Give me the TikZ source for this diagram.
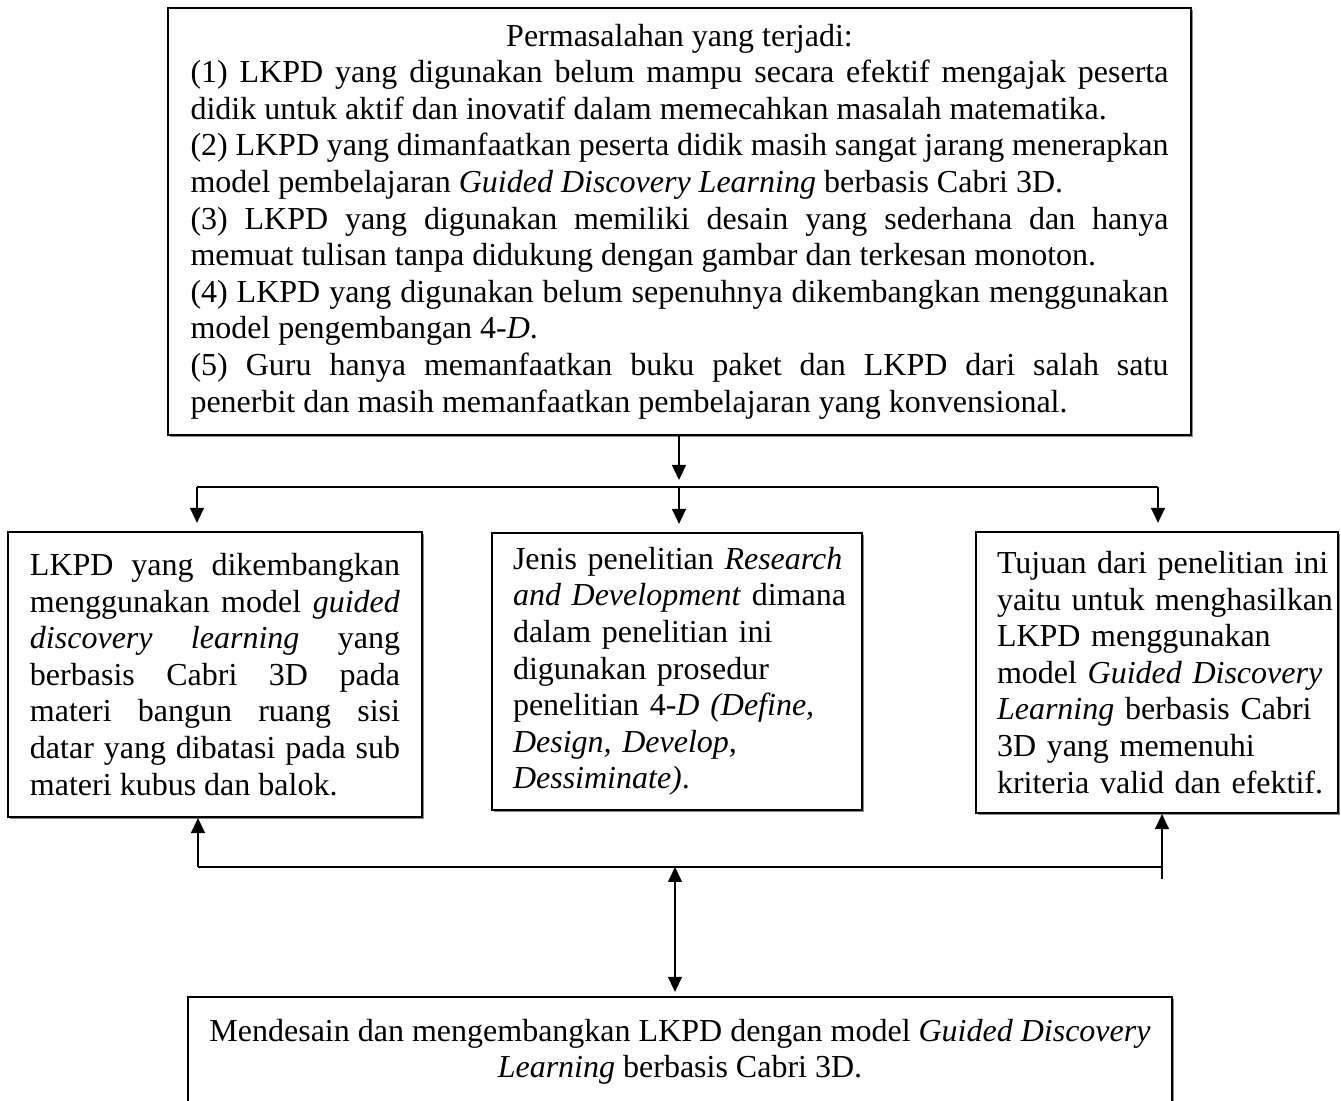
\documentclass[tikz,border=0pt]{standalone}
\usepackage{fontspec}
\setmainfont{Liberation Serif}
\usetikzlibrary{arrows.meta,shadows}
\hyphenpenalty=10000
\exhyphenpenalty=10000
\newcommand{\jl}[1]{\makebox[\linewidth][s]{#1}}
\begin{document}
\begin{tikzpicture}[x=0.5pt,y=-0.5pt,
  box/.style={draw=black,line width=1.1pt,fill=white,rectangle,inner sep=0pt,
    font=\fontsize{16}{18.3}\selectfont,
    drop shadow={shadow xshift=0.9pt,shadow yshift=-0.9pt,fill=black!45,opacity=1}},
  conn/.style={line width=0.65pt},
  arr/.style={conn,-{Triangle[length=7.5pt,width=7pt]}},
  arrb/.style={conn,{Triangle[length=7.5pt,width=7pt]}-{Triangle[length=7.5pt,width=7pt]}}]
\useasboundingbox (0,0) rectangle (1341,1101);

\node[box,minimum width=511.5pt,minimum height=213.5pt,text width=489pt,align=justify] (top) at (679.5,221.5) {%
\centerline{Permasalahan yang terjadi:}\\
\jl{(1) LKPD yang digunakan belum mampu secara efektif mengajak peserta}\\
\mbox{didik untuk aktif dan inovatif dalam memecahkan masalah matematika.}\\
\jl{(2) LKPD yang dimanfaatkan peserta didik masih sangat jarang menerapkan}\\
\mbox{model pembelajaran \textit{Guided Discovery Learning} berbasis Cabri 3D.}\\
\jl{(3) LKPD yang digunakan memiliki desain yang sederhana dan hanya}\\
\mbox{memuat tulisan tanpa didukung dengan gambar dan terkesan monoton.}\\
\jl{(4) LKPD yang digunakan belum sepenuhnya dikembangkan menggunakan}\\
\mbox{model pengembangan 4-\textit{D}.}\\
\jl{(5) Guru hanya memanfaatkan buku paket dan LKPD dari salah satu}\\
\mbox{penerbit dan masih memanfaatkan pembelajaran yang konvensional.}};

\node[box,minimum width=207pt,minimum height=142.5pt,text width=185pt,align=justify] (left) at (215,674.5) {%
\jl{LKPD yang dikembangkan}\\
\jl{menggunakan model \textit{guided}}\\
\jl{\textit{discovery} \textit{learning} yang}\\
\jl{berbasis Cabri 3D pada}\\
\jl{materi bangun ruang sisi}\\
\jl{datar yang dibatasi pada sub}\\
\mbox{materi kubus dan balok.}};

\node[box,minimum width=185pt,minimum height=138.5pt,text width=164pt,align=left] (mid) at (677,671.5) {%
\mbox{Jenis penelitian \textit{Research}}\\
\mbox{\textit{and Development} dimana}\\
\mbox{dalam penelitian ini}\\
\mbox{digunakan prosedur}\\
\mbox{penelitian 4-\textit{D (Define,}}\\
\mbox{\textit{Design, Develop,}}\\
\mbox{\textit{Dessiminate)}.}};

\node[box,minimum width=181pt,minimum height=140.5pt,text width=160pt,align=left] (right) at (1157,672.5) {%
\mbox{Tujuan dari penelitian ini}\\
\mbox{yaitu untuk menghasilkan}\\
\mbox{LKPD menggunakan}\\
\mbox{model \textit{Guided Discovery}}\\
\mbox{\textit{Learning} berbasis Cabri}\\
\mbox{3D yang memenuhi}\\
\mbox{kriteria valid dan efektif.}};

\node[box,minimum width=492pt,minimum height=55pt,align=center] (bot) at (680,1052) {%
Mendesain dan mengembangkan LKPD dengan model \textit{Guided Discovery}\\
\textit{Learning} berbasis Cabri 3D.};

% upper connectors
\coordinate (hL) at (197,487);
\coordinate (hM) at (679,487);
\coordinate (hR) at (1158,487);
\draw[conn] (hL) -- (hR);
\draw[arr,shorten >=3.5pt] (top.south -| hM) -- (hM);
\draw[arr,shorten >=4pt] (hL) -- (hL |- left.north);
\draw[arr,shorten >=4pt] (hM) -- (hM |- mid.north);
\draw[arr,shorten >=4pt] (hR) -- (hR |- right.north);

% lower connectors
\coordinate (bL) at (198,867);
\coordinate (bM) at (675,867);
\coordinate (bR) at (1162,867);
\coordinate (bRe) at (1162,879);
\draw[conn] (bL) -- (bR);
\draw[arr] (bL) -- (bL |- left.south);
\draw[arr] (bRe) -- (bRe |- right.south);
\draw[arrb,shorten <=2pt] (bM |- bot.north) -- (bM);
\end{tikzpicture}
\end{document}
